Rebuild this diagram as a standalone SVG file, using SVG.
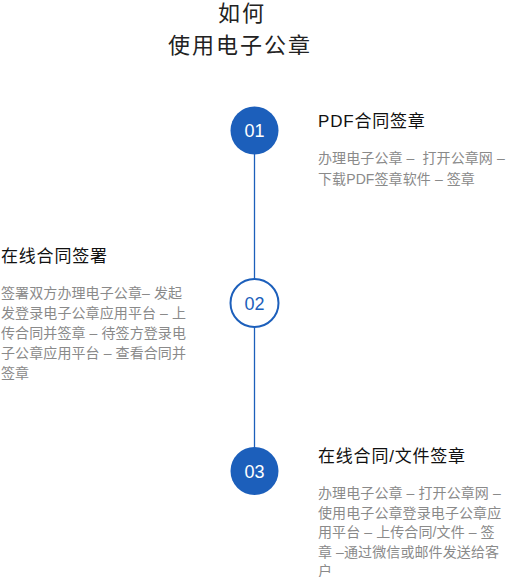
<svg xmlns="http://www.w3.org/2000/svg" width="507" height="577" viewBox="0 0 507 577">
<style>
text{font-family:"Liberation Sans","Noto Sans CJK SC",sans-serif;}
.main{font-size:22px;fill:#222;letter-spacing:2px;}
.ttl{font-size:17px;fill:#111;letter-spacing:0.8px;}
.desc{font-size:14px;fill:#8a8a8a;letter-spacing:0.1px;white-space:pre;}
.num{font-size:18px;text-anchor:middle;}
.filled{fill:#1c5fbb;}
.hollow{fill:#fff;stroke:#1c5fbb;stroke-width:2;}
.conn{stroke:#1c5fbb;stroke-width:1.3;fill:none;}
</style>
<rect width="507" height="577" fill="#fff"/>
<g id="title">
<text class="main" x="242" y="20.5" text-anchor="middle">如何</text>
<text class="main" x="240" y="52.5" text-anchor="middle">使用电子公章</text>
</g>
<g id="connectors">
<line class="conn" x1="254.5" y1="154" x2="254.5" y2="279"/>
<line class="conn" x1="254.5" y1="327" x2="254.5" y2="448"/>
</g>
<g id="node1">
<circle class="filled" cx="254.5" cy="130.5" r="24"/>
<text class="num" x="254.5" y="137" fill="#fff">01</text>
<text class="ttl" x="318" y="127">PDF合同签章</text>
<text class="desc" x="318" y="162.5">办理电子公章 –&#160; 打开公章网 –</text>
<text class="desc" x="318" y="183.5">下载PDF签章软件 – 签章</text>
</g>
<g id="node2">
<circle class="hollow" cx="254.5" cy="303" r="24"/>
<text class="num" x="254.5" y="309.5" fill="#1c5fbb">02</text>
<text class="ttl" x="1" y="262">在线合同签署</text>
<text class="desc" x="1" y="298">签署双方办理电子公章– 发起</text>
<text class="desc" x="1" y="318">发登录电子公章应用平台 – 上</text>
<text class="desc" x="1" y="338">传合同并签章 – 待签方登录电</text>
<text class="desc" x="1" y="358">子公章应用平台 – 查看合同并</text>
<text class="desc" x="1" y="377.5">签章</text>
</g>
<g id="node3">
<circle class="filled" cx="254.5" cy="471" r="24"/>
<text class="num" x="254.5" y="477.5" fill="#fff">03</text>
<text class="ttl" x="318" y="462">在线合同/文件签章</text>
<text class="desc" x="318" y="497.5">办理电子公章 – 打开公章网 –</text>
<text class="desc" x="318" y="517.5">使用电子公章登录电子公章应</text>
<text class="desc" x="318" y="537">用平台 – 上传合同/文件 – 签</text>
<text class="desc" x="318" y="556.5">章 –通过微信或邮件发送给客</text>
<text class="desc" x="318" y="575.5">户</text>
</g>
</svg>
